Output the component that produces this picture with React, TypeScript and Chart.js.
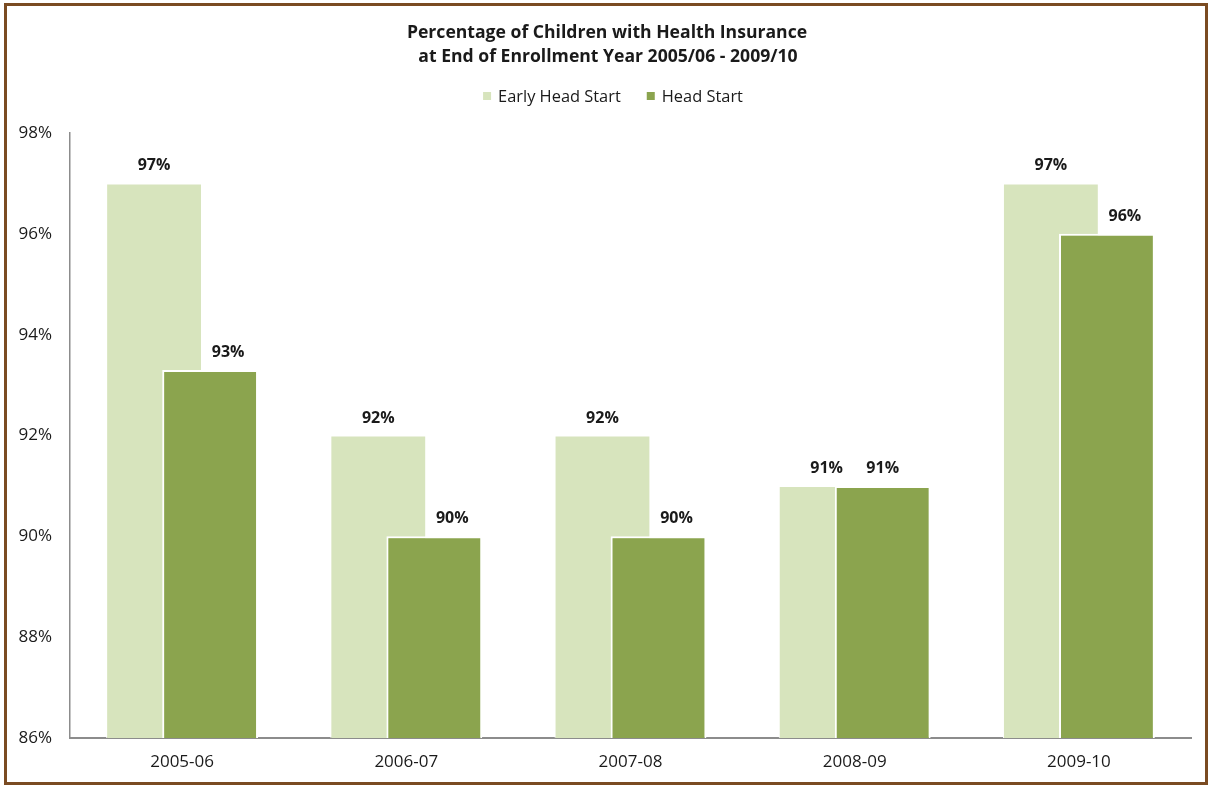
import React, { useEffect, useRef } from "react";
import { Chart, registerables } from "chart.js";

Chart.register(...registerables);

const titleLines = [
  "Percentage of Children with Health Insurance",
  "at End of Enrollment Year 2005/06 - 2009/10",
];
const categories = ["2005-06", "2006-07", "2007-08", "2008-09", "2009-10"];
const seriesNames = ["Early Head Start", "Head Start"];
const earlyHeadStart = [97, 92, 92, 91, 97];
const headStart = [93.3, 90, 90, 91, 96];
const yMin = 86;
const yMax = 98;
const yStep = 2;
const seriesColors = ["#d7e4bd", "#8ba44e"];

const FONT = '"Open Sans", "Liberation Sans", sans-serif';
const TEXT = "#1a1a1a";

// draw the second series (Head Start) in front of the first one
const frontSeries = {
  id: "frontSeries",
  beforeDatasetDraw(chart: any, args: any) {
    if (args.index === 1 && !chart.$front) return false;
  },
  afterDatasetsDraw(chart: any) {
    const area = chart.chartArea;
    const ctx = chart.ctx;
    ctx.save();
    ctx.beginPath();
    ctx.rect(area.left, area.top, area.right - area.left, area.bottom - area.top);
    ctx.clip();
    chart.$front = true;
    chart.getDatasetMeta(1).controller.draw();
    chart.$front = false;
    ctx.restore();
  },
};

const valueLabels = {
  id: "valueLabels",
  afterDatasetsDraw(chart: any) {
    const ctx = chart.ctx;
    ctx.save();
    ctx.font = `bold 16px ${FONT}`;
    ctx.fillStyle = TEXT;
    ctx.textAlign = "center";
    ctx.textBaseline = "alphabetic";
    const ds0 = chart.data.datasets[0].data;
    chart.data.datasets.forEach((ds: any, di: number) => {
      const meta = chart.getDatasetMeta(di);
      meta.data.forEach((bar: any, i: number) => {
        const v = ds.data[i];
        let x = bar.x;
        if (di === 1 && v < ds0[i]) x += 18;
        ctx.fillText(Math.round(v) + "%", x, bar.y - 13);
      });
    });
    ctx.restore();
  },
};

const titleLegend = {
  id: "titleLegend",
  afterDraw(chart: any) {
    const ctx = chart.ctx;
    ctx.save();
    ctx.fillStyle = TEXT;
    ctx.textAlign = "center";
    ctx.textBaseline = "alphabetic";
    ctx.font = `bold 17.6px ${FONT}`;
    ctx.fillText(titleLines[0], 607, 38);
    ctx.fillText(titleLines[1], 608, 62);

    // legend
    ctx.font = `16.4px ${FONT}`;
    ctx.textAlign = "left";
    const box = 8;
    const gapBoxText = 7;
    const gapItems = 26;
    const widths = chart.data.datasets.map((d: any) => ctx.measureText(d.label).width);
    let total = 0;
    widths.forEach((w: number, i: number) => {
      total += box + gapBoxText + w + (i < widths.length - 1 ? gapItems : 0);
    });
    let x = 613 - total / 2;
    chart.data.datasets.forEach((d: any, i: number) => {
      ctx.fillStyle = d.backgroundColor;
      ctx.fillRect(x, 92, box, box);
      ctx.fillStyle = TEXT;
      ctx.fillText(d.label, x + box + gapBoxText, 102);
      x += box + gapBoxText + widths[i] + gapItems;
    });
    ctx.restore();
  },
};

export default function App() {
  const canvasRef = useRef<HTMLCanvasElement | null>(null);

  useEffect(() => {
    if (!canvasRef.current) return;
    const chart = new Chart(canvasRef.current, {
      type: "bar",
      data: {
        labels: categories,
        datasets: [
          {
            label: seriesNames[0],
            data: earlyHeadStart,
            backgroundColor: seriesColors[0],
            borderColor: "#ffffff",
            borderWidth: 1,
            categoryPercentage: 0.5,
            barPercentage: 1.71,
          },
          {
            label: seriesNames[1],
            data: headStart,
            backgroundColor: seriesColors[1],
            borderColor: "#ffffff",
            borderWidth: 2,
            categoryPercentage: 0.5,
            barPercentage: 1.71,
          },
        ],
      },
      options: {
        responsive: false,
        animation: false,
        devicePixelRatio: 1,
        layout: { padding: { top: 133, right: 22, bottom: 9, left: 0 } },
        plugins: {
          legend: { display: false },
          title: { display: false },
          tooltip: { enabled: false },
        },
        scales: {
          x: {
            grid: { display: false, drawTicks: false },
            border: { display: true, color: "#8c8c8c", width: 2 },
            ticks: {
              color: TEXT,
              font: { family: FONT, size: 17 },
              padding: 14,
              maxRotation: 0,
            },
            afterFit(scale: any) {
              scale.height = 40;
            },
          },
          y: {
            min: yMin,
            max: yMax,
            grid: { display: false, drawTicks: false },
            border: { display: true, color: "#8c8c8c", width: 1.5 },
            ticks: {
              stepSize: yStep,
              color: TEXT,
              font: { family: FONT, size: 17 },
              padding: 18,
              callback: (v: any) => v + "%",
            },
            afterFit(scale: any) {
              scale.width = 70;
            },
          },
        },
      },
      plugins: [frontSeries, valueLabels, titleLegend],
    });
    return () => chart.destroy();
  }, []);

  return (
    <div
      style={{
        position: "fixed",
        left: 0,
        top: 0,
        width: 1213,
        height: 787,
        background: "#ffffff",
        overflow: "hidden",
      }}
    >
      <canvas
        ref={canvasRef}
        width={1213}
        height={787}
        style={{ position: "absolute", left: 0, top: 0, display: "block" }}
      />
      <div
        style={{
          position: "absolute",
          left: 4,
          top: 3,
          width: 1204,
          height: 782,
          boxSizing: "border-box",
          border: "3px solid #7a4b22",
          pointerEvents: "none",
        }}
      />
    </div>
  );
}
